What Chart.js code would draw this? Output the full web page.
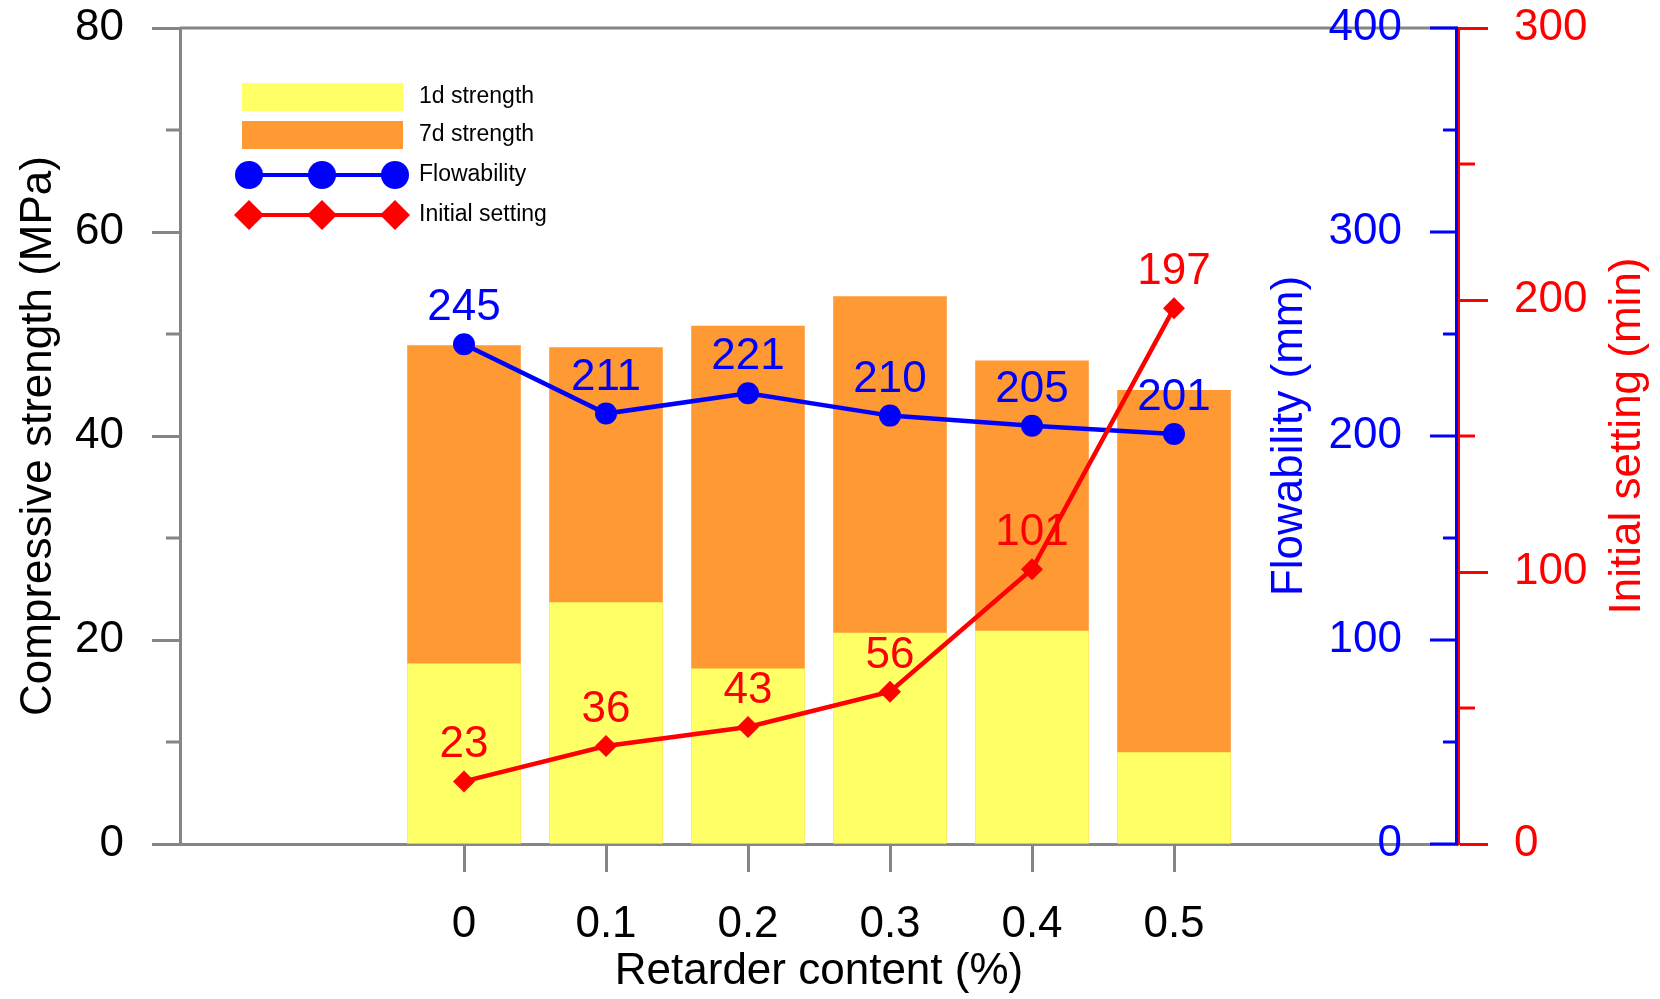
<!DOCTYPE html>
<html lang="en">
<head>
    <meta charset="UTF-8">
    <title>Retarder content vs strength, flowability and setting time</title>
    <script src="https://cdn.jsdelivr.net/npm/chart.js"></script>
    <style>
        body {
            margin: 0;
            padding: 0;
            background: #fff;
        }
        canvas {
            display: block;
        }
    </style>
</head>
<body>
    <canvas id="chart" width="1660" height="999"></canvas>

    <script>
        // Data
        const retarder = ["0", "0.1", "0.2", "0.3", "0.4", "0.5"];
        const strength1d = [17.7, 23.7, 17.2, 20.7, 20.9, 9.0];
        const strength7d = [48.9, 48.7, 50.8, 53.7, 47.4, 44.5];
        const flowability = [245, 211, 221, 210, 205, 201];
        const initialSetting = [23, 36, 43, 56, 101, 197];

        // Tick labels
        const strengthTicks = [0, 20, 40, 60, 80];
        const flowTicks = [0, 100, 200, 300, 400];
        const settingTicks = [0, 100, 200, 300];

        const FONT = "'Liberation Sans', Arial, sans-serif";
        const GREY = "#858585";
        const BLUE = "#0000ff";
        const RED = "#ff0000";

        // the x axis runs from -0.2 to 0.7, only 0 .. 0.5 carry data
        const xLabels = ["", "", ...retarder, "", ""];
        const pad = arr => [null, null, ...arr, null, null];

        // minor tick marks, titles drawn outside the Chart.js axis box, value labels, legend
        const decorPlugin = {
            id: "decor",
            afterDatasetsDraw(chart) {
                const ctx = chart.ctx;
                const area = chart.chartArea;
                const yL = chart.scales.y;
                const yF = chart.scales.yFlow;
                const yS = chart.scales.ySet;

                ctx.save();
                ctx.lineCap = "butt";

                // top frame line
                ctx.strokeStyle = GREY;
                ctx.lineWidth = 3;
                ctx.beginPath();
                ctx.moveTo(area.left, area.top);
                ctx.lineTo(area.right, area.top);
                ctx.stroke();

                // left minor ticks
                [10, 30, 50, 70].forEach(v => {
                    const y = yL.getPixelForValue(v);
                    ctx.beginPath();
                    ctx.moveTo(area.left - 14, y);
                    ctx.lineTo(area.left, y);
                    ctx.stroke();
                });

                // flowability axis (sits on the inside of the right edge)
                const xr = area.right;
                ctx.strokeStyle = BLUE;
                ctx.beginPath();
                ctx.moveTo(xr - 1.5, area.top);
                ctx.lineTo(xr - 1.5, area.bottom);
                ctx.stroke();
                ctx.fillStyle = BLUE;
                ctx.font = "44px " + FONT;
                ctx.textAlign = "right";
                ctx.textBaseline = "middle";
                flowTicks.forEach(v => {
                    const y = yF.getPixelForValue(v);
                    ctx.beginPath();
                    ctx.moveTo(xr - 28, y);
                    ctx.lineTo(xr, y);
                    ctx.stroke();
                    ctx.fillText(String(v), xr - 56, y);
                });
                [50, 150, 250, 350].forEach(v => {
                    const y = yF.getPixelForValue(v);
                    ctx.beginPath();
                    ctx.moveTo(xr - 15, y);
                    ctx.lineTo(xr, y);
                    ctx.stroke();
                });
                const midY = (area.top + area.bottom) / 2;
                ctx.save();
                ctx.translate(1290, midY);
                ctx.rotate(-Math.PI / 2);
                ctx.textAlign = "center";
                ctx.fillText("Flowability (mm)", 0, 0);
                ctx.restore();

                // setting time axis: minor ticks and title
                ctx.strokeStyle = RED;
                [50, 150, 250].forEach(v => {
                    const y = yS.getPixelForValue(v);
                    ctx.beginPath();
                    ctx.moveTo(xr, y);
                    ctx.lineTo(xr + 17, y);
                    ctx.stroke();
                });
                ctx.fillStyle = RED;
                ctx.save();
                ctx.translate(1628, midY);
                ctx.rotate(-Math.PI / 2);
                ctx.textAlign = "center";
                ctx.fillText("Initial setting (min)", 0, 0);
                ctx.restore();

                // value labels over the line points
                ctx.textAlign = "center";
                ctx.textBaseline = "alphabetic";
                chart.data.datasets.forEach((ds, i) => {
                    if (ds.type !== "line") return;
                    const meta = chart.getDatasetMeta(i);
                    ctx.fillStyle = ds.borderColor;
                    meta.data.forEach((pt, j) => {
                        const v = ds.data[j];
                        if (v === null) return;
                        ctx.fillText(String(v), pt.x, pt.y - 24);
                    });
                });

                // legend
                ctx.font = "23px " + FONT;
                ctx.textAlign = "left";
                ctx.textBaseline = "middle";
                const lx0 = 242, lx1 = 403, tx = 419;
                const rows = [97, 135, 175, 215];
                chart.data.datasets.forEach(ds => {
                    const y = rows[ds.legendRow];
                    if (ds.type === "bar") {
                        ctx.fillStyle = ds.backgroundColor;
                        ctx.fillRect(lx0, y - 14, lx1 - lx0, 28);
                    } else {
                        ctx.strokeStyle = ds.borderColor;
                        ctx.fillStyle = ds.borderColor;
                        ctx.lineWidth = 4;
                        ctx.beginPath();
                        ctx.moveTo(249, y);
                        ctx.lineTo(395, y);
                        ctx.stroke();
                        [249, 322, 395].forEach(cx => {
                            ctx.beginPath();
                            if (ds.pointStyle === "circle") {
                                ctx.arc(cx, y, 14, 0, Math.PI * 2);
                            } else {
                                ctx.moveTo(cx - 15, y);
                                ctx.lineTo(cx, y - 15);
                                ctx.lineTo(cx + 15, y);
                                ctx.lineTo(cx, y + 15);
                                ctx.closePath();
                            }
                            ctx.fill();
                        });
                    }
                    ctx.fillStyle = "#000";
                    ctx.fillText(ds.label, tx, y);
                });

                ctx.restore();
            }
        };

        const ctx = document.getElementById("chart").getContext("2d");

        new Chart(ctx, {
            data: {
                labels: xLabels,
                datasets: [
                    {
                        type: "line",
                        label: "Initial setting",
                        legendRow: 3,
                        data: pad(initialSetting),
                        yAxisID: "ySet",
                        borderColor: RED,
                        backgroundColor: RED,
                        borderWidth: 4.5,
                        pointStyle: "rectRot",
                        pointRadius: 11,
                        pointBorderWidth: 0,
                        order: 0
                    },
                    {
                        type: "line",
                        label: "Flowability",
                        legendRow: 2,
                        data: pad(flowability),
                        yAxisID: "yFlow",
                        borderColor: BLUE,
                        backgroundColor: BLUE,
                        borderWidth: 4.5,
                        pointStyle: "circle",
                        pointRadius: 11,
                        pointBorderWidth: 0,
                        order: 1
                    },
                    {
                        type: "bar",
                        label: "1d strength",
                        legendRow: 0,
                        data: pad(strength1d),
                        yAxisID: "y",
                        backgroundColor: "#ffff66",
                        grouped: false,
                        order: 2
                    },
                    {
                        type: "bar",
                        label: "7d strength",
                        legendRow: 1,
                        data: pad(strength7d),
                        yAxisID: "y",
                        backgroundColor: "#ff9933",
                        grouped: false,
                        order: 3
                    }
                ]
            },
            options: {
                responsive: false,
                animation: false,
                layout: {
                    padding: { left: 4, right: 73, top: 28, bottom: 5 }
                },
                datasets: {
                    bar: {
                        categoryPercentage: 1,
                        barPercentage: 0.8
                    }
                },
                plugins: {
                    legend: { display: false },
                    tooltip: { enabled: false }
                },
                scales: {
                    x: {
                        type: "category",
                        offset: false,
                        afterFit: s => { s.height = 150; },
                        border: { color: GREY, width: 3 },
                        grid: {
                            offset: false,
                            drawOnChartArea: false,
                            tickLength: 28,
                            tickWidth: 3,
                            tickColor: c => (c.tick && c.tick.label !== "" ? GREY : "rgba(0,0,0,0)")
                        },
                        ticks: {
                            autoSkip: false,
                            maxRotation: 0,
                            padding: 31,
                            color: "#000",
                            font: { family: FONT, size: 44, lineHeight: 1.0 }
                        },
                        title: {
                            display: true,
                            text: "Retarder content (%)",
                            color: "#000",
                            font: { family: FONT, size: 44, lineHeight: 1.0 },
                            padding: { top: 7, bottom: 0 }
                        }
                    },
                    y: {
                        position: "left",
                        min: 0,
                        max: 80,
                        afterBuildTicks: s => { s.ticks = strengthTicks.map(v => ({ value: v })); },
                        afterFit: s => { s.width = 176; s.paddingTop = 0; s.paddingBottom = 0; },
                        border: { color: GREY, width: 3 },
                        grid: {
                            drawOnChartArea: false,
                            tickLength: 28,
                            tickWidth: 3,
                            tickColor: GREY
                        },
                        ticks: {
                            padding: 28,
                            color: "#000",
                            font: { family: FONT, size: 44 }
                        },
                        title: {
                            display: true,
                            text: "Compressive strength (MPa)",
                            color: "#000",
                            font: { family: FONT, size: 44 },
                            padding: { top: 8, bottom: 0 }
                        }
                    },
                    yFlow: {
                        position: "right",
                        display: false,
                        min: 0,
                        max: 400
                    },
                    ySet: {
                        position: "right",
                        min: 0,
                        max: 300,
                        afterBuildTicks: s => { s.ticks = settingTicks.map(v => ({ value: v })); },
                        afterFit: s => { s.width = 129; s.paddingTop = 0; s.paddingBottom = 0; },
                        border: { color: RED, width: 3 },
                        grid: {
                            drawOnChartArea: false,
                            tickLength: 30,
                            tickWidth: 3,
                            tickColor: RED
                        },
                        ticks: {
                            padding: 26,
                            color: RED,
                            font: { family: FONT, size: 44 }
                        }
                    }
                }
            },
            plugins: [decorPlugin]
        });
    </script>
</body>
</html>
